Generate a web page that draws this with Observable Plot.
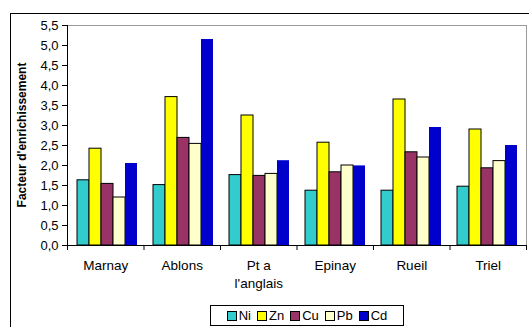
<!DOCTYPE html>
<html><head><meta charset="utf-8">
<script src="https://cdn.jsdelivr.net/npm/d3@7"></script>
<script src="https://cdn.jsdelivr.net/npm/@observablehq/plot@0.6"></script>
<style>
body{margin:0;width:529px;height:327px;overflow:hidden;background:#fff;font-family:"Liberation Sans",Arial,sans-serif;position:relative}
#frame{position:absolute;left:10px;top:13px;width:600px;height:400px;border:1.5px solid #000;box-sizing:border-box}
#bg,#fg{position:absolute;left:0;top:0}
#title{position:absolute;left:22px;top:135px;transform:translate(-50%,-50%) rotate(-90deg);font-weight:bold;font-size:12px;white-space:nowrap;color:#000}
#legend{position:absolute;left:210px;top:305px;width:194px;height:21px;box-sizing:border-box;border:1px solid #000;background:#fff;display:flex;align-items:center;justify-content:center;gap:6px;font-size:13px;color:#000}
#legend .it{display:flex;align-items:center;gap:2px}
#legend .sw{width:8px;height:8px;border:1px solid #000}
</style>
</head><body>
<div id="frame"></div>
<div id="bg"></div>
<div id="fg"></div>
<div id="title">Facteur d'enrichissement</div>
<div id="legend"></div>
<script>
const sites = ["Marnay", "Ablons", "Pt a\nl'anglais", "Epinay", "Rueil", "Triel"];
const metals = ["Ni", "Zn", "Cu", "Pb", "Cd"];
const Ni = [1.63, 1.51, 1.76, 1.37, 1.37, 1.47];
const Zn = [2.42, 3.71, 3.25, 2.57, 3.65, 2.90];
const Cu = [1.54, 2.69, 1.74, 1.83, 2.33, 1.93];
const Pb = [1.20, 2.54, 1.79, 2.00, 2.20, 2.11];
const Cd = [2.05, 5.15, 2.12, 1.99, 2.95, 2.50];
const colors = ["#33CCCC", "#FFFF00", "#993366", "#FFFFCC", "#0000CC"];
const yTicks = [0, 0.5, 1, 1.5, 2, 2.5, 3, 3.5, 4, 4.5, 5, 5.5];
const boundaries = [0, 1, 2, 3, 4, 5, 6];

const series = {Ni, Zn, Cu, Pb, Cd};
const data = [];
sites.forEach((s, i) => metals.forEach(m => data.push({site: s, metal: m, value: series[m][i]})));

const W = 529, H = 300, ML = 67, MR = 3, MT = 25, MB = 55;
const fmt = d => d.toFixed(1).replace(".", ",");

const bg = Plot.plot({
  width: W, height: H, marginLeft: ML, marginRight: MR, marginTop: MT, marginBottom: MB,
  style: {fontFamily: "Liberation Sans, Arial, sans-serif", fontSize: "13px", color: "#000", background: "transparent"},
  x: {type: "linear", domain: [0, sites.length], ticks: boundaries, tickFormat: () => "", tickSize: 5, label: null},
  y: {domain: [0, 5.5], ticks: yTicks, tickFormat: fmt, tickSize: 5, tickPadding: 4, label: null},
  marks: [
    Plot.ruleY([5.5], {stroke: "#999"}),
    Plot.ruleX([sites.length], {stroke: "#999"}),
    Plot.ruleY([0], {stroke: "#000"}),
    Plot.ruleX([0], {stroke: "#000"}),
    Plot.text(sites, {x: (d, i) => i + 0.5, y: 0, text: d => d, dy: 12, lineAnchor: "top", lineHeight: 1.3, fontSize: 13.5, fill: "#000"})
  ]
});
document.getElementById("bg").appendChild(bg);

const fg = Plot.plot({
  width: W, height: H, marginLeft: ML, marginRight: MR, marginTop: MT, marginBottom: MB,
  style: {background: "transparent"},
  facet: {data, x: "site"},
  fx: {domain: sites, paddingInner: 0.216, paddingOuter: 0.108, axis: null, label: null},
  x: {domain: metals, padding: 0, axis: null},
  y: {domain: [0, 5.5], axis: null},
  color: {domain: metals, range: colors},
  marks: [
    Plot.barY(data, {x: "metal", y: "value", fill: "metal", filter: d => d.metal !== "Cd", stroke: "#000", strokeWidth: 1}),
    Plot.barY(data, {x: "metal", y: "value", fill: "metal", filter: d => d.metal === "Cd"})
  ]
});
document.getElementById("fg").appendChild(fg);

const lg = document.getElementById("legend");
metals.forEach((m, i) => {
  const it = document.createElement("div"); it.className = "it";
  const sw = document.createElement("div"); sw.className = "sw"; sw.style.background = colors[i];
  const t = document.createElement("span"); t.textContent = m;
  it.appendChild(sw); it.appendChild(t); lg.appendChild(it);
});
</script>
</body></html>
